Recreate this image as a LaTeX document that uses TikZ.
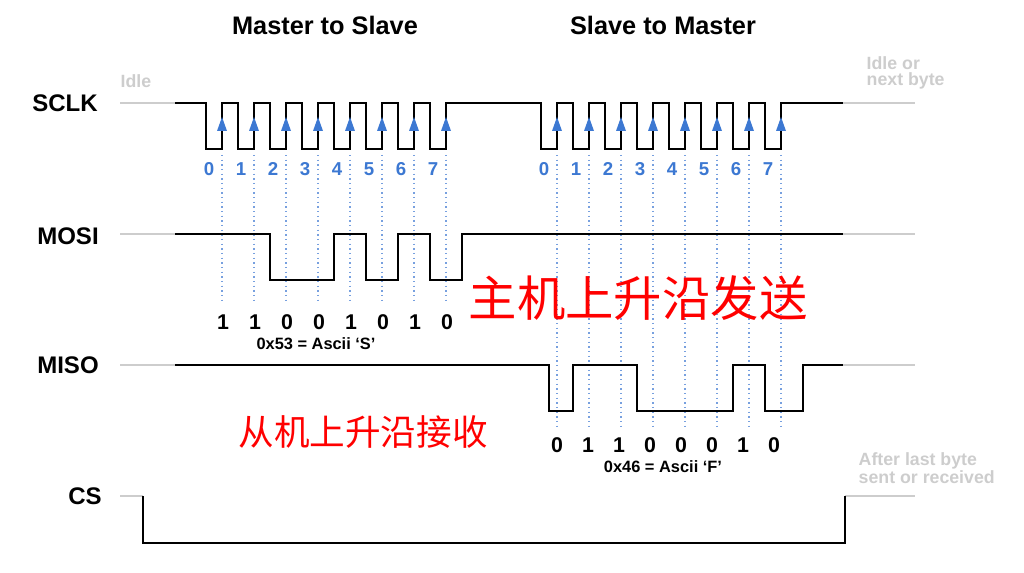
\documentclass[tikz,border=0pt]{standalone}
\usepackage{fontspec}
\setmainfont{Liberation Sans}
\newfontfamily\cjk{Noto Sans CJK SC}
\definecolor{clkblue}{RGB}{60,120,210}
\definecolor{idlegray}{RGB}{205,205,205}
\begin{document}
\begin{tikzpicture}[x=0.75pt,y=-0.75pt,
  sig/.style={line width=1.8pt,black,line join=miter},
  tail/.style={line width=1.5pt,idlegray},
  dots/.style={clkblue!70,line width=1.2pt,dash pattern=on 0.9pt off 2.6pt},
  signame/.style={font=\fontsize{18}{20}\selectfont\bfseries},
  ttl/.style={font=\fontsize{19}{22}\selectfont\bfseries},
  num/.style={font=\fontsize{14}{16}\selectfont\bfseries,text=clkblue},
  bit/.style={font=\fontsize{16}{18}\selectfont\bfseries},
  small/.style={font=\fontsize{12.3}{14}\selectfont\bfseries},
  gtext/.style={font=\fontsize{13.3}{12}\selectfont\bfseries,text=idlegray,align=left},
  arr/.style={fill=clkblue}]
\useasboundingbox (0,0) rectangle (1024,573);
% titles
\node[ttl] (t1) at (325,25) {Master to Slave};
\node[ttl] (t2) at (663,25) {Slave to Master};
% names
\node[signame] (nsclk) at (65,103) {SCLK};
\node[signame] (nmosi) at (68,236) {MOSI};
\node[signame] (nmiso) at (68,365) {MISO};
\node[signame] (ncs) at (85,496) {CS};
% gray tails
\draw[tail] (120,103) -- (175,103);
\draw[tail] (120,234) -- (175,234);
\draw[tail] (120,365) -- (175,365);
\draw[tail] (120,496) -- (143,496);
\draw[tail] (843,103) -- (915,103);
\draw[tail] (843,234) -- (915,234);
\draw[tail] (843,365) -- (915,365);
\draw[tail] (845,496) -- (915,496);
\node[gtext,anchor=west] (idle) at (116,81) {Idle};
\node[gtext,anchor=west] (idle2) at (862,73) {Idle or\\next byte};
\node[gtext,anchor=west] (after) at (854,468) {After last byte\\sent or received};
% dotted lines
\foreach \i in {0,...,7}{
  \draw[dots] (222+32*\i,155) -- (222+32*\i,303);
  \draw[dots] (557+32*\i,155) -- (557+32*\i,428);
}
% SCLK
\draw[sig] (175,103) -- (206,103)
  \foreach \i in {0,...,7}{ -- (206+32*\i,149) -- (222+32*\i,149) -- (222+32*\i,103) -- (238+32*\i,103) }
  -- (541,103)
  \foreach \i in {0,...,7}{ -- (541+32*\i,149) -- (557+32*\i,149) -- (557+32*\i,103) -- (573+32*\i,103) }
  -- (843,103);
\foreach \i in {0,...,7}{
  \fill[arr] (222+32*\i,117) -- (227+32*\i,131) -- (217+32*\i,131) -- cycle;
  \fill[arr] (557+32*\i,117) -- (562+32*\i,131) -- (552+32*\i,131) -- cycle;
  \node[num] (ln\i) at (209+32*\i,169) {\i};
  \node[num] (rn\i) at (544+32*\i,169) {\i};
}
% MOSI
\draw[sig] (175,234) -- (270,234) -- (270,280) -- (334,280) -- (334,234) -- (366,234) -- (366,280) -- (398,280) -- (398,234) -- (430,234) -- (430,280) -- (462,280) -- (462,234) -- (843,234);
% MISO
\draw[sig] (175,365) -- (549,365) -- (549,411) -- (573,411) -- (573,365) -- (637,365) -- (637,411) -- (733,411) -- (733,365) -- (765,365) -- (765,411) -- (803,411) -- (803,365) -- (843,365);
% CS
\draw[sig] (143,496) -- (143,543) -- (845,543) -- (845,496);
% bits
\foreach \b [count=\k from 0] in {1,1,0,0,1,0,1,0}{
  \node[bit] (lb\k) at (223+32*\k,322) {\b};
}
\foreach \b [count=\k from 0] in {0,1,1,0,0,0,1,0}{
  \node[bit] (rb\k) at (557+31*\k,445) {\b};
}
\node[small] (s1) at (316,344) {0x53 = Ascii ‘S’};
\node[small] (s2) at (663,467) {0x46 = Ascii ‘F’};
% red chinese
\node[font=\cjk\fontsize{36.3}{40}\selectfont,text=red] (r1) at (638,298) {主机上升沿发送};
\node[font=\cjk\fontsize{26.7}{30}\selectfont,text=red] (r2) at (363,432) {从机上升沿接收};
\end{tikzpicture}
\end{document}
